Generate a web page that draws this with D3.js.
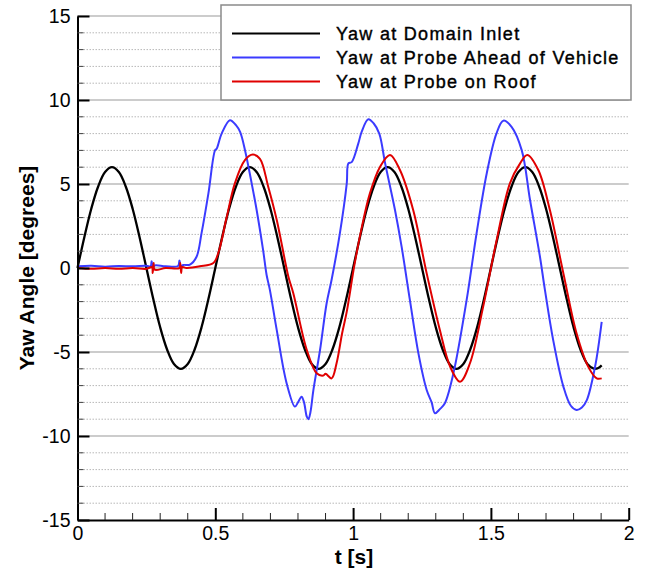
<!DOCTYPE html>
<html>
<head>
<meta charset="utf-8">
<script src="https://cdn.jsdelivr.net/npm/d3@7"></script>
<style>
  body { margin: 0; background: #fff; }
  svg { display: block; font-family: "Liberation Sans", Arial, sans-serif; }
</style>
</head>
<body>
<svg id="chart"></svg>
<script>
// series: [t (s), yaw (deg)]
const inletYaw = [
  [0, 0], [0.025, 1.85], [0.05, 3.53], [0.075, 4.85], [0.1, 5.71], [0.125, 6], [0.15, 5.71], [0.175, 4.85],
  [0.2, 3.53], [0.225, 1.85], [0.25, 0], [0.275, -1.85], [0.3, -3.53], [0.325, -4.85], [0.35, -5.71], [0.375, -6],
  [0.4, -5.71], [0.425, -4.85], [0.45, -3.53], [0.475, -1.85], [0.5, 0], [0.525, 1.85], [0.55, 3.53], [0.575, 4.85],
  [0.6, 5.71], [0.625, 6], [0.65, 5.71], [0.675, 4.85], [0.7, 3.53], [0.725, 1.85], [0.75, 0], [0.775, -1.85],
  [0.8, -3.53], [0.825, -4.85], [0.85, -5.71], [0.875, -6], [0.9, -5.71], [0.925, -4.85], [0.95, -3.53], [0.975, -1.85],
  [1.0, 0], [1.025, 1.85], [1.05, 3.53], [1.075, 4.85], [1.1, 5.71], [1.125, 6], [1.15, 5.71], [1.175, 4.85],
  [1.2, 3.53], [1.225, 1.85], [1.25, 0], [1.275, -1.85], [1.3, -3.53], [1.325, -4.85], [1.35, -5.71], [1.375, -6],
  [1.4, -5.71], [1.425, -4.85], [1.45, -3.53], [1.475, -1.85], [1.5, 0], [1.525, 1.85], [1.55, 3.53], [1.575, 4.85],
  [1.6, 5.71], [1.625, 6], [1.65, 5.71], [1.675, 4.85], [1.7, 3.53], [1.725, 1.85], [1.75, 0], [1.775, -1.85],
  [1.8, -3.53], [1.825, -4.85], [1.85, -5.71], [1.875, -6], [1.89, -5.95], [1.902, -5.8]
];
const aheadYaw = [
  [0, 0.1], [0.05, 0.13], [0.1, 0.08], [0.15, 0.12], [0.2, 0.1], [0.25, 0.13], [0.265, 0.1], [0.269, 0.4],
  [0.273, 0.05], [0.28, 0.15], [0.32, 0.1], [0.365, 0.12], [0.37, 0.45], [0.375, 0.1], [0.384, 0.18], [0.408, 0.2],
  [0.432, 0.67], [0.45, 2.06], [0.475, 4.44], [0.499, 7.0], [0.505, 7.1], [0.523, 8.0], [0.553, 8.8], [0.575, 8.5],
  [0.59, 8.1], [0.608, 7.0], [0.632, 5.04], [0.65, 3.45], [0.674, 1.0], [0.686, -0.4], [0.698, -1.3], [0.723, -3.7],
  [0.759, -6.87], [0.789, -8.25], [0.8, -8.0], [0.813, -7.66], [0.822, -8.0], [0.832, -8.85], [0.838, -9.0], [0.845, -8.6],
  [0.856, -7.26], [0.88, -4.88], [0.904, -2.1], [0.922, -0.7], [0.952, 2.06], [0.977, 5.04], [0.983, 6.23], [0.995, 6.3],
  [1.019, 7.42], [1.031, 8.1], [1.055, 8.85], [1.075, 8.6], [1.095, 8.0], [1.116, 6.25], [1.152, 3.45], [1.176, 1.27],
  [1.206, -1.9], [1.237, -5.08], [1.267, -7.26], [1.285, -8.0], [1.297, -8.65], [1.315, -8.4], [1.333, -8.05], [1.364, -6.27],
  [1.412, -1.9], [1.448, 2.06], [1.485, 5.64], [1.52, 8.0], [1.545, 8.77], [1.575, 8.4], [1.612, 7.0], [1.642, 4.05],
  [1.678, 0.67], [1.696, -1.3], [1.726, -4.29], [1.763, -7.06], [1.79, -8.2], [1.811, -8.45], [1.83, -8.3], [1.848, -7.86],
  [1.878, -5.87], [1.902, -3.2]
];
const roofYaw = [
  [0, 0], [0.05, -0.05], [0.1, 0], [0.15, -0.05], [0.2, 0], [0.25, -0.05], [0.27, 0.05], [0.273, -0.3],
  [0.276, 0.3], [0.28, -0.1], [0.32, 0], [0.37, 0], [0.373, 0.3], [0.376, -0.3], [0.38, 0.05], [0.396, 0],
  [0.444, 0.1], [0.493, 0.3], [0.511, 0.9], [0.541, 3.0], [0.571, 5.04], [0.608, 6.43], [0.636, 6.75], [0.662, 6.5],
  [0.692, 4.84], [0.723, 2.86], [0.765, -0.5], [0.783, -1.5], [0.832, -4.88], [0.868, -6.27], [0.892, -6.4], [0.9, -6.3],
  [0.922, -6.57], [0.94, -5.67], [0.96, -3.9], [0.977, -2.6], [1.005, 0.2], [1.03, 2.3], [1.061, 4.44], [1.098, 6.03],
  [1.134, 6.73], [1.17, 5.83], [1.218, 3.45], [1.267, -0.32], [1.315, -3.7], [1.352, -5.87], [1.388, -6.77], [1.424, -5.67],
  [1.472, -2.3], [1.521, 1.67], [1.569, 5.04], [1.606, 6.23], [1.632, 6.73], [1.672, 5.83], [1.714, 3.45], [1.763, -0.32],
  [1.811, -3.9], [1.853, -5.87], [1.884, -6.57], [1.902, -6.57]
];
const seriesNames = ["Yaw at Domain Inlet", "Yaw at Probe Ahead of Vehicle", "Yaw at Probe on Roof"];
const seriesColors = ["#000000", "#3b3bff", "#e00000"];
const xTicks = [0, 0.5, 1, 1.5, 2];
const yTicks = [-15, -10, -5, 0, 5, 10, 15];

const width = 648;
const height = 569;
const svg = d3.select("#chart").attr("width", width).attr("height", height);

const xScale = d3.scaleLinear().domain([0, 2]).range([77.5, 628.7]);
const yScale = d3.scaleLinear().domain([-15, 15]).range([520, 16]);

// grid
const minorY = d3.range(-14, 15, 1).filter((v) => v % 5 !== 0);
svg.append("g")
  .selectAll("line")
  .data(minorY)
  .join("line")
  .attr("x1", xScale(0)).attr("x2", xScale(2))
  .attr("y1", (d) => yScale(d)).attr("y2", (d) => yScale(d))
  .attr("stroke", "#b8b8b8")
  .attr("stroke-width", 1)
  .attr("stroke-dasharray", "1.5,1.5");
svg.append("g")
  .selectAll("line")
  .data(yTicks.filter((d) => d > -15))
  .join("line")
  .attr("x1", xScale(0)).attr("x2", xScale(2))
  .attr("y1", (d) => yScale(d)).attr("y2", (d) => yScale(d))
  .attr("stroke", "#9a9a9a")
  .attr("stroke-width", 1.2);

// lines
const line = d3.line()
  .x((d) => xScale(d[0]))
  .y((d) => yScale(d[1]))
  .curve(d3.curveCatmullRom);
[inletYaw, aheadYaw, roofYaw].forEach((data, i) => {
  svg.append("path")
    .attr("d", line(data))
    .attr("fill", "none")
    .attr("stroke", seriesColors[i])
    .attr("stroke-width", i === 0 ? 2.3 : 2)
    .attr("stroke-linejoin", "round");
});

// y-Axis
const yAxis = d3.axisLeft(yScale).tickValues(yTicks).tickFormat((d) => String(d)).tickSize(0).tickPadding(7);
const yAxisG = svg.append("g").attr("transform", `translate(${xScale(0)},0)`).call(yAxis);
yAxisG.select(".domain").attr("stroke", "#000").attr("stroke-width", 2);
yAxisG.selectAll("text").attr("font-size", 19.5).attr("fill", "#000")
  .attr("font-family", "Liberation Sans, Arial, sans-serif");
yAxisG.selectAll(".tick")
  .append("line")
  .attr("x1", 0).attr("x2", 12)
  .attr("stroke", "#000").attr("stroke-width", 2);
svg.append("g")
  .selectAll("line")
  .data(minorY)
  .join("line")
  .attr("x1", xScale(0)).attr("x2", xScale(0) + 6)
  .attr("y1", (d) => yScale(d)).attr("y2", (d) => yScale(d))
  .attr("stroke", "#444").attr("stroke-width", 1);

// x-Axis
const xAxis = d3.axisBottom(xScale).tickValues(xTicks).tickFormat((d) => String(d)).tickSize(0).tickPadding(6);
const xAxisG = svg.append("g").attr("transform", `translate(0,${yScale(-15)})`).call(xAxis);
xAxisG.select(".domain").attr("stroke", "#000").attr("stroke-width", 2);
xAxisG.selectAll("text").attr("font-size", 19.5).attr("fill", "#000")
  .attr("font-family", "Liberation Sans, Arial, sans-serif");
xAxisG.selectAll(".tick")
  .append("line")
  .attr("y1", 0).attr("y2", -12)
  .attr("stroke", "#000").attr("stroke-width", 2);
const minorX = d3.range(1, 20).filter((i) => i % 5 !== 0).map((i) => i / 10);
svg.append("g")
  .selectAll("line")
  .data(minorX)
  .join("line")
  .attr("x1", (d) => xScale(d)).attr("x2", (d) => xScale(d))
  .attr("y1", yScale(-15)).attr("y2", yScale(-15) - 7)
  .attr("stroke", "#222").attr("stroke-width", 1);

// axis titles
svg.append("text")
  .attr("transform", "translate(34,268) rotate(-90)")
  .attr("text-anchor", "middle")
  .attr("font-size", 21)
  .attr("font-weight", "bold")
  .text("Yaw Angle [degrees]");
svg.append("text")
  .attr("x", 354).attr("y", 564)
  .attr("text-anchor", "middle")
  .attr("font-size", 21)
  .attr("font-weight", "bold")
  .text("t [s]");

// legend
const legend = svg.append("g");
legend.append("rect")
  .attr("x", 221).attr("y", 5)
  .attr("width", 410).attr("height", 95)
  .attr("fill", "#fff")
  .attr("stroke", "#8a8a8a")
  .attr("stroke-width", 1.5);
seriesNames.forEach((name, i) => {
  const base = 39.5 + i * 24;
  legend.append("line")
    .attr("x1", 232).attr("x2", 320)
    .attr("y1", base - 6).attr("y2", base - 6)
    .attr("stroke", seriesColors[i]).attr("stroke-width", 2);
  legend.append("text")
    .attr("x", 336).attr("y", base)
    .attr("font-size", 18)
    .attr("letter-spacing", 1.3)
    .attr("fill", "#000")
    .attr("stroke", "#000")
    .attr("stroke-width", 0.4)
    .text(name);
});
</script>
</body>
</html>
